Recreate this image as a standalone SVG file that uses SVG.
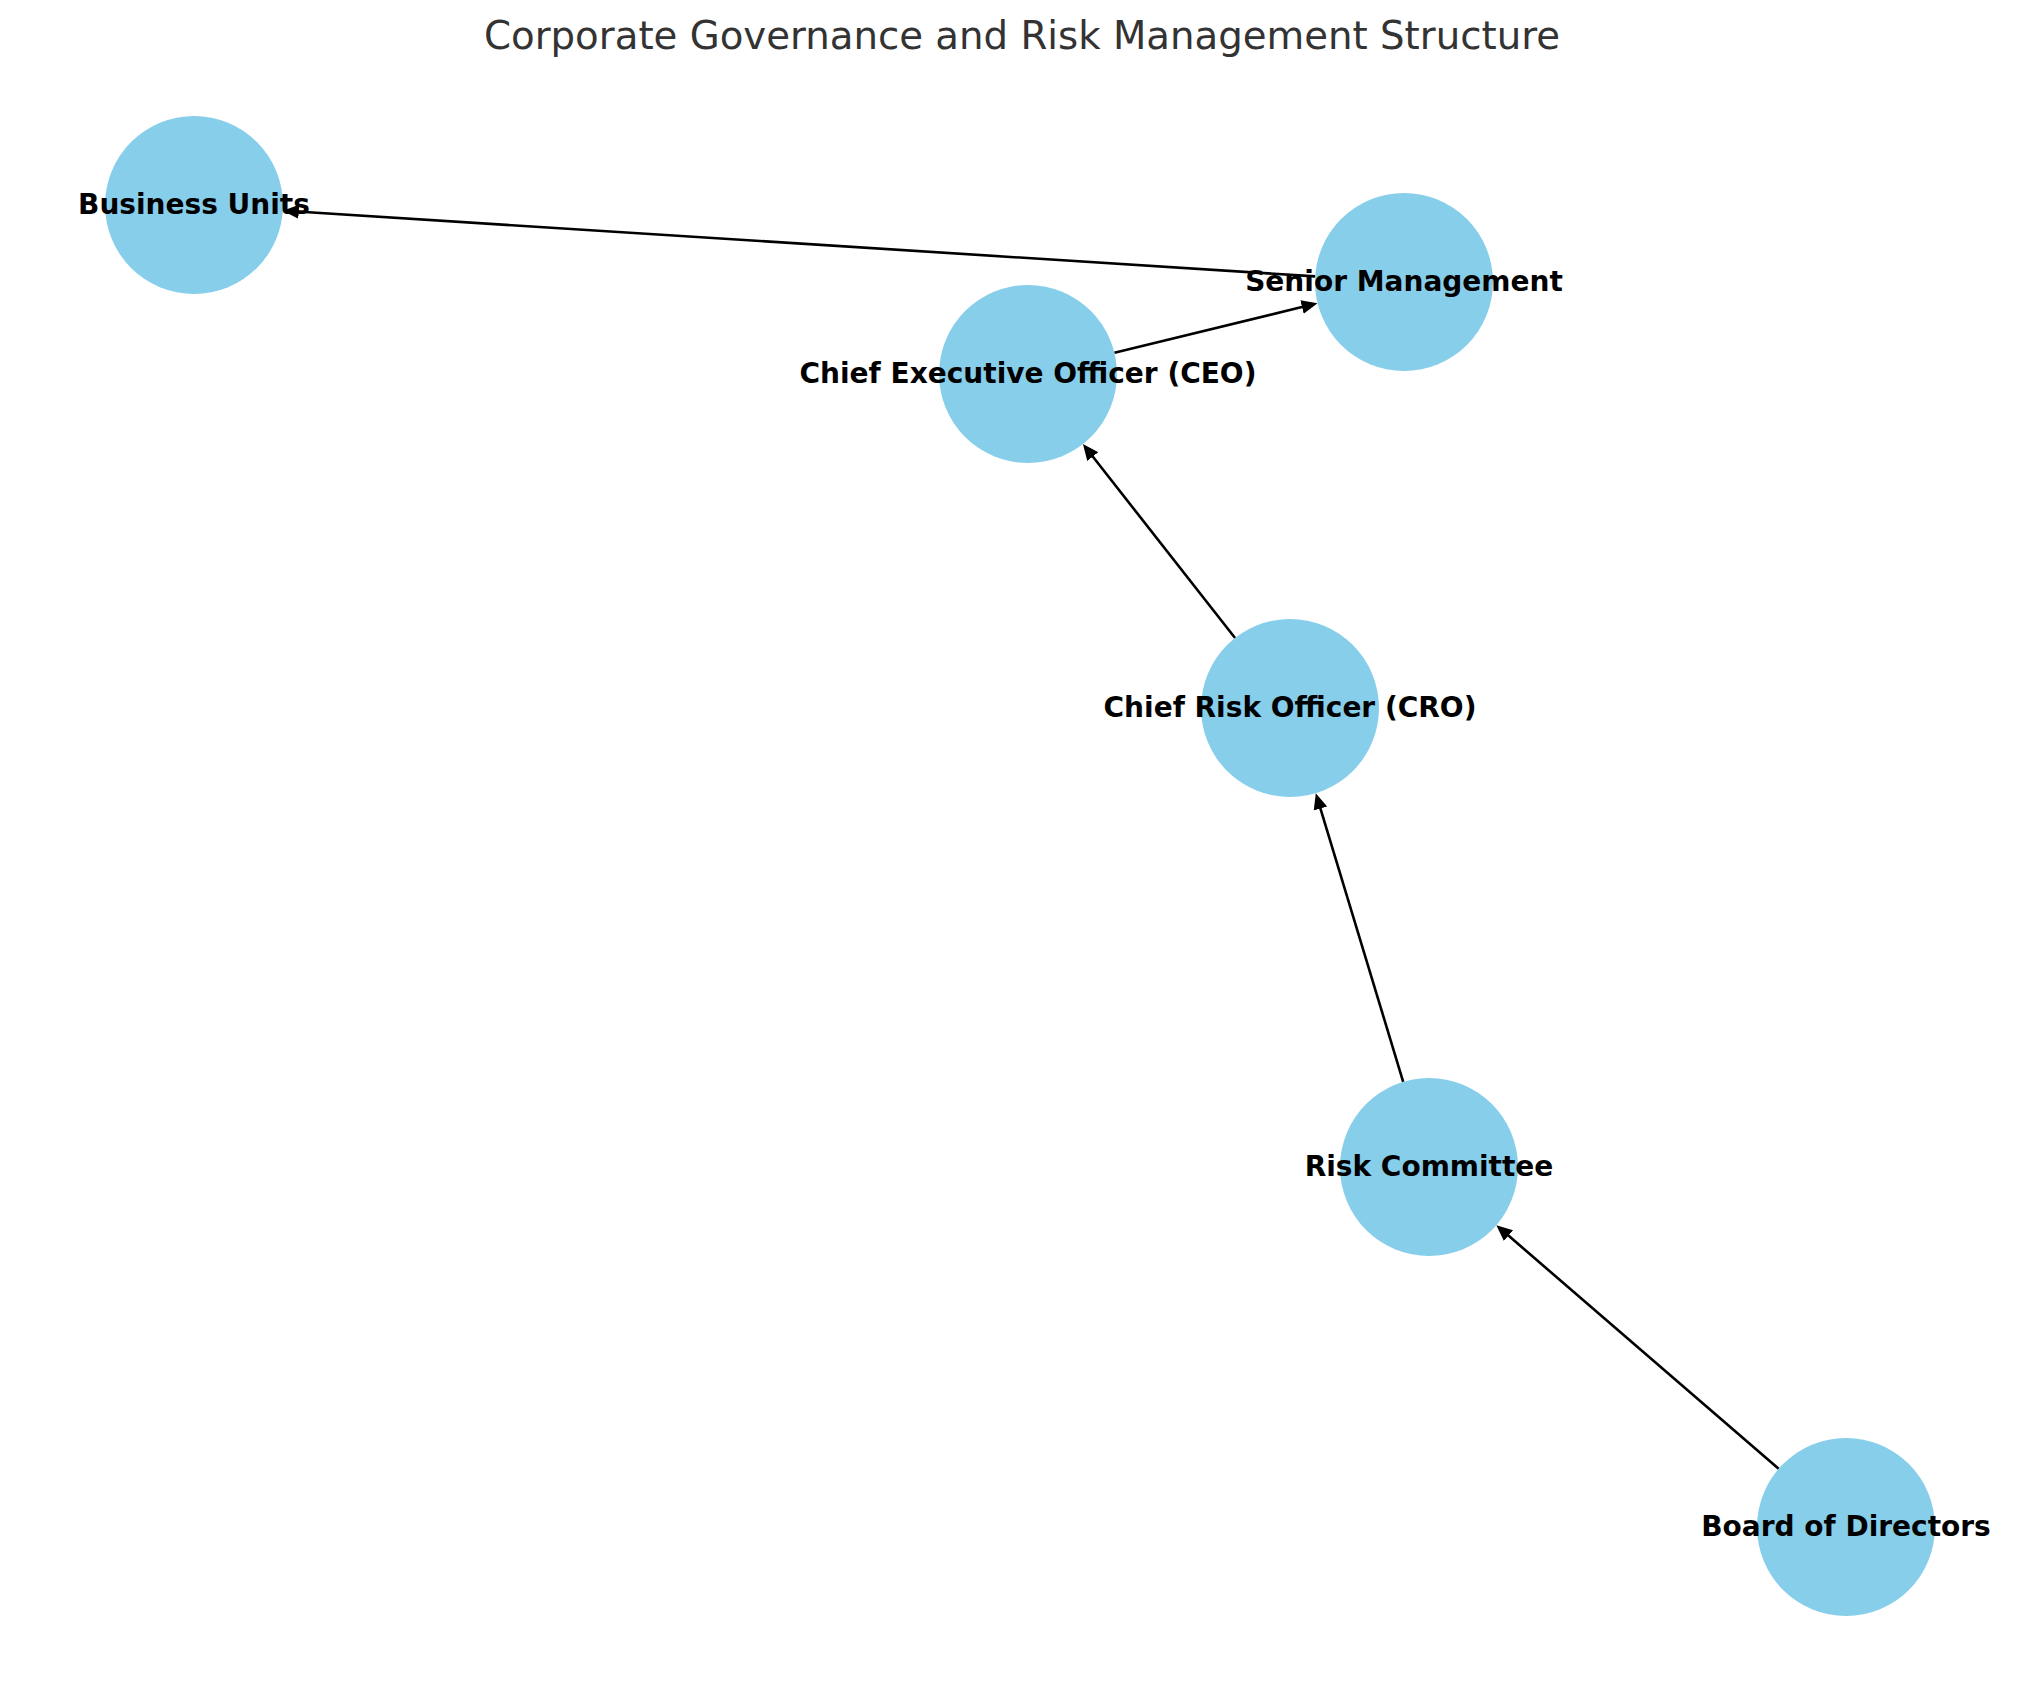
<svg xmlns="http://www.w3.org/2000/svg" width="2039" height="1686" viewBox="0 0 2039 1686">
<style>
.title{font-family:"DejaVu Sans","Liberation Sans",sans-serif;font-size:38.7px;fill:#333333;text-anchor:middle}
.node circle{fill:#87CEEB;stroke:none}
.node text{font-family:"DejaVu Sans","Liberation Sans",sans-serif;font-size:28px;font-weight:bold;fill:#000000;text-anchor:middle}
.edge{stroke:#000000;stroke-width:2.6;fill:none;marker-end:url(#arrow)}
</style>
<defs>
<marker id="arrow" markerUnits="userSpaceOnUse" markerWidth="19" markerHeight="16" viewBox="0 -8 19 16" refX="2" refY="0" orient="auto">
<path d="M0,-7 L16,0 L0,7 z" fill="#000000"/>
</marker>
</defs>
<rect width="2039" height="1686" fill="#ffffff"/>
<text class="title" x="1022" y="49">Corporate Governance and Risk Management Structure</text>
<g id="connectors">
<line class="edge" x1="1315.18" y1="276.35" x2="296.80" y2="211.54"/>
<line class="edge" x1="1114.45" y1="352.85" x2="1303.96" y2="306.48"/>
<line class="edge" x1="1235.07" y1="637.97" x2="1091.57" y2="455.05"/>
<line class="edge" x1="1403.20" y1="1081.82" x2="1319.86" y2="806.58"/>
<line class="edge" x1="1778.63" y1="1468.84" x2="1506.96" y2="1234.31"/>
</g>
<g id="node-business-units" class="node"><circle cx="194" cy="205" r="89"/></g>
<g id="node-senior-management" class="node"><circle cx="1404" cy="282" r="89"/></g>
<g id="node-ceo" class="node"><circle cx="1028" cy="374" r="89"/></g>
<g id="node-cro" class="node"><circle cx="1290" cy="708" r="89"/></g>
<g id="node-risk-committee" class="node"><circle cx="1429" cy="1167" r="89"/></g>
<g id="node-board" class="node"><circle cx="1846" cy="1527" r="89"/></g>
<g id="labels" class="node">
<text x="194" y="214">Business Units</text>
<text x="1404" y="291">Senior Management</text>
<text x="1028" y="383">Chief Executive Officer (CEO)</text>
<text x="1290" y="717">Chief Risk Officer (CRO)</text>
<text x="1429" y="1176">Risk Committee</text>
<text x="1846" y="1536">Board of Directors</text>
</g>
</svg>
